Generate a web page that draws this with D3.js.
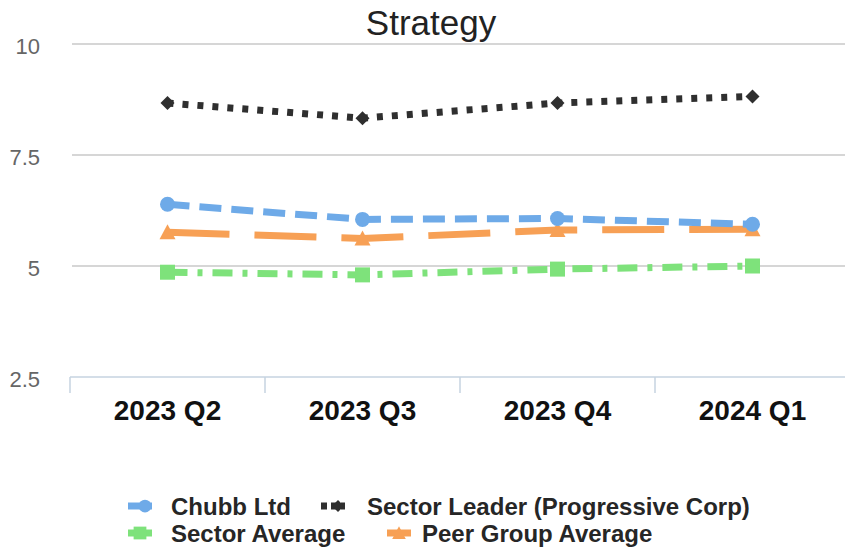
<!DOCTYPE html>
<html>
<head>
<meta charset="utf-8">
<script src="https://cdn.jsdelivr.net/npm/d3@7"></script>
<style>
  body{margin:0;background:#fff;}
  svg{display:block;font-family:"Liberation Sans",Arial,sans-serif;}
</style>
</head>
<body>
<svg id="chart" width="845" height="553"></svg>
<script>
const quarters = ["2023 Q2","2023 Q3","2023 Q4","2024 Q1"];
const chubb   = [6.39, 6.05, 6.07, 5.94];
const leader  = [8.67, 8.33, 8.67, 8.82];
const sectAvg = [4.86, 4.80, 4.93, 5.00];
const peerAvg = [5.76, 5.62, 5.81, 5.83];
const yTicks  = [2.5, 5, 7.5, 10];

const series = [
  {name:"Chubb Ltd", values:chubb, color:"#6eaae8", dash:"22,10", marker:"circle"},
  {name:"Sector Leader (Progressive Corp)", values:leader, color:"#2f2f2f", dash:"6,9", marker:"diamond"},
  {name:"Sector Average", values:sectAvg, color:"#7ee27b", dash:"20,10,5,10", marker:"square"},
  {name:"Peer Group Average", values:peerAvg, color:"#f7a055", dash:"62,25", marker:"triangle"}
];
// draw order: leader, sector avg, peer, chubb on top
const drawOrder = [1,2,3,0];

const svg = d3.select("#chart");
const x = d3.scaleBand().domain(quarters).range([70, 850]);
const xc = d => x(d) + x.bandwidth()/2;
const y = d3.scaleLinear().domain([2.5, 10]).range([377, 44]);

// title
svg.append("text").attr("x",431).attr("y",35).attr("text-anchor","middle")
  .attr("font-size",35).attr("fill","#222").text("Strategy");

// y axis + gridlines
const yAx = svg.append("g").attr("transform","translate(72,0)")
  .call(d3.axisLeft(y).tickValues(yTicks).tickSize(0).tickPadding(32).tickFormat(d=>String(d)));
yAx.select(".domain").remove();
yAx.selectAll("text").attr("font-size",22).attr("fill","#666").attr("dy","0.45em")
  .attr("font-family","Liberation Sans, Arial, sans-serif");
svg.append("g").selectAll("line").data(yTicks.filter(t=>t>2.5)).join("line")
  .attr("x1",72).attr("x2",845).attr("y1",d=>y(d)).attr("y2",d=>y(d))
  .attr("stroke","#c9c9c9").attr("stroke-width",1.5);

// x axis
svg.append("line").attr("x1",70).attr("x2",845).attr("y1",y(2.5)).attr("y2",y(2.5))
  .attr("stroke","#c6d3e0").attr("stroke-width",1.5);
svg.append("g").selectAll("line").data(quarters).join("line")
  .attr("x1",d=>x(d)).attr("x2",d=>x(d)).attr("y1",y(2.5)).attr("y2",y(2.5)+16)
  .attr("stroke","#c6d3e0").attr("stroke-width",1.5);
const xAx = svg.append("g").attr("transform",`translate(0,${y(2.5)})`)
  .call(d3.axisBottom(x).tickSize(0).tickPadding(0));
xAx.select(".domain").remove();
xAx.selectAll("text").attr("dy",null).attr("y",43).attr("font-size",28).attr("font-weight","bold")
  .attr("fill","#111").attr("font-family","Liberation Sans, Arial, sans-serif");

function marker(g, type, cx, cy, color, s){
  if(type==="circle") g.append("circle").attr("cx",cx).attr("cy",cy).attr("r",7.5*s).attr("fill",color);
  else if(type==="diamond") g.append("path")
    .attr("d",`M${cx},${cy-7*s}L${cx+7*s},${cy}L${cx},${cy+7*s}L${cx-7*s},${cy}Z`).attr("fill",color);
  else if(type==="square") g.append("rect").attr("x",cx-7.5*s).attr("y",cy-7.5*s)
    .attr("width",15*s).attr("height",15*s).attr("fill",color);
  else g.append("path")
    .attr("d",`M${cx},${cy-8*s}L${cx+8*s},${cy+7*s}L${cx-8*s},${cy+7*s}Z`).attr("fill",color);
}

const line = d3.line().x((d,i)=>xc(quarters[i])).y(d=>y(d));
drawOrder.forEach(k=>{
  const s = series[k];
  const g = svg.append("g");
  g.append("path").datum(s.values).attr("d",line).attr("fill","none")
    .attr("stroke",s.color).attr("stroke-width",7).attr("stroke-dasharray",s.dash);
  s.values.forEach((v,i)=>marker(g, s.marker, xc(quarters[i]), y(v), s.color, 1));
});

// legend
const legendPos = [
  {mx:140, tx:171, ty:515},
  {mx:333, tx:367, ty:515},
  {mx:140, tx:171, ty:542},
  {mx:399, tx:422, ty:542}
];
series.forEach((s,i)=>{
  const p = legendPos[i], g = svg.append("g"), cy = p.ty-9;
  g.append("line").attr("x1",p.mx-12).attr("x2",p.mx+12).attr("y1",cy).attr("y2",cy)
    .attr("stroke",s.color).attr("stroke-width",7)
    .attr("stroke-dasharray", s.marker==="diamond" ? "6,4" : null);
  marker(g, s.marker, p.mx+(s.marker==="circle"||s.marker==="diamond"?5:0), cy, s.color, 0.85);
  g.append("text").attr("x",p.tx).attr("y",p.ty).attr("font-size",24).attr("font-weight","bold")
    .attr("fill","#262626").text(s.name);
});
</script>
</body>
</html>
